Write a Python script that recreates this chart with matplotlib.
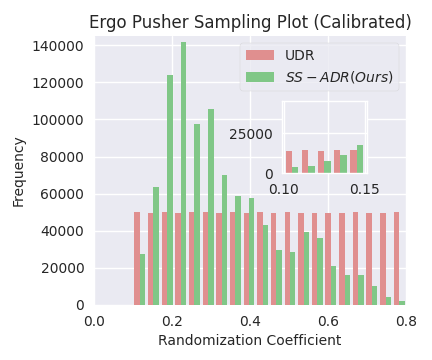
import numpy as np
from matplotlib import pyplot as plt

plt.style.use('seaborn-v0_8')
plt.rcParams.update({'font.sans-serif': ['DejaVu Sans'],
                     'axes.titlesize': 12, 'axes.labelsize': 10,
                     'xtick.labelsize': 10, 'ytick.labelsize': 10,
                     'legend.fontsize': 10, 'legend.frameon': True})

# main histogram, 20 bins from 0.1 to 0.8
bin_edges = np.linspace(0.1, 0.8, 21)
udr_counts = [50200, 49600, 50200, 49600, 50200, 50200, 49600, 50200, 49600, 50200,
              49600, 50200, 49600, 49600, 49600, 49600, 50200, 49600, 49600, 50200]
ssadr_counts = [27700, 63400, 124100, 141500, 97700, 105800, 69900, 58600, 57900, 43300,
                29500, 28400, 39200, 36000, 20900, 16000, 16000, 10100, 4200, 1900]

# inset histogram, 5 bins from 0.10 to 0.15
inset_edges = np.linspace(0.10, 0.15, 6)
udr_inset = [14100, 14200, 14100, 14200, 14200]
ssadr_inset = [4100, 4750, 7900, 11400, 17900]

red = '#E08F8F'
green = '#80C787'

fig = plt.figure(figsize=(4.32, 3.6), dpi=100)
ax = fig.add_axes([0.2176, 0.1528, 0.7222, 0.7472])

centers = (bin_edges[:-1] + bin_edges[1:]) / 2
ax.hist([centers, centers], bins=bin_edges, weights=[udr_counts, ssadr_counts],
        color=[red, green], label=['UDR', r'$SS-ADR (Ours)$'])
ax.set_xlim(0, 0.8)
ax.set_ylim(0, 145000)
ax.set_title('Ergo Pusher Sampling Plot (Calibrated)')
ax.set_xlabel('Randomization Coefficient')
ax.set_ylabel('Frequency')
ax.legend(loc='upper right')

# zoomed inset
axins = fig.add_axes([0.6535, 0.5186, 0.1968, 0.2008])
ic = (inset_edges[:-1] + inset_edges[1:]) / 2
axins.hist([ic, ic], bins=inset_edges, weights=[udr_inset, ssadr_inset],
           color=[red, green])
axins.set_xlim(0.099, 0.1516)
axins.set_ylim(0, 45000)
axins.set_xticks([0.10, 0.1275, 0.15])
axins.set_xticklabels(['0.10', '', '0.15'])
axins.set_yticks([0, 25000])
for s in axins.spines.values():
    s.set_visible(True)
    s.set_linewidth(1.0)
    s.set_color('white')

fig.savefig('out.png', dpi=100)
